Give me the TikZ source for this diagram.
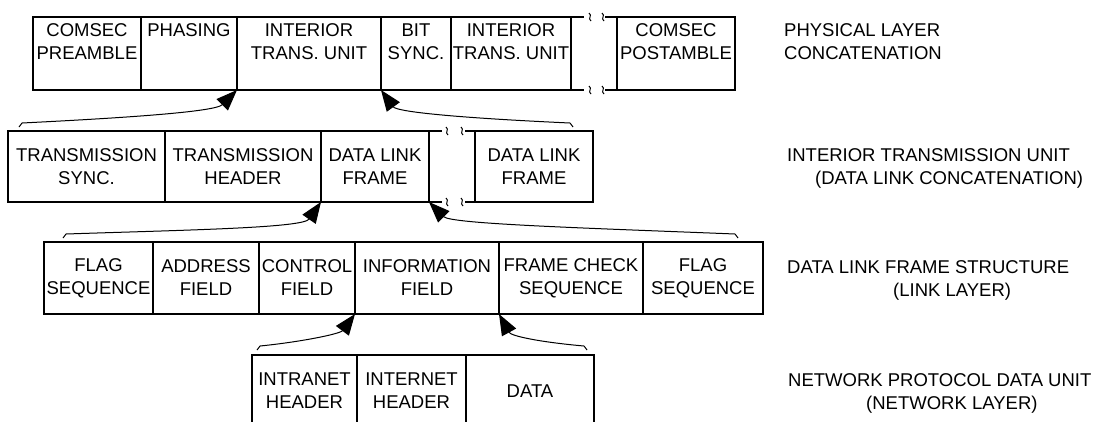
\documentclass[tikz,border=0pt]{standalone}
\usepackage{fontspec}
\setmainfont{Liberation Sans}
\usetikzlibrary{arrows.meta,calc}
\begin{document}
\begin{tikzpicture}[x=1pt,y=-1pt,
  cell/.style={draw,line width=1.3pt,inner sep=0pt,outer sep=0pt,anchor=north west,align=center,font=\fontsize{18.5}{23}\selectfont},
  txt/.style={inner sep=0pt,anchor=north,align=center,font=\fontsize{18.5}{23}\selectfont},
  lbl/.style={inner sep=0pt,anchor=base west,font=\fontsize{18.5}{23}\selectfont},
  frame/.style={line width=1.3pt},
  brk/.style={line width=1pt},
  conn/.style={line width=1pt,-{Triangle[length=21pt,width=16pt]}}]
\useasboundingbox (0,0) rectangle (1097,421);
\clip (0,0) rectangle (1097,421);
\newcommand{\brkmark}[1]{\draw[brk] ($#1+(-1,-4)$) .. controls ($#1+(2.8,-1.5)$) and ($#1+(-2.8,1.5)$) .. ($#1+(1,4)$);}
% ---------- row 1: physical layer ----------
\node[cell,minimum width=108,minimum height=73] (p1) at (33,17) {};
\node[cell,minimum width=96,minimum height=73] (p2) at (141,17) {};
\node[cell,minimum width=144,minimum height=73] (p3) at (237,17) {};
\node[cell,minimum width=70,minimum height=73] (p4) at (381,17) {};
\node[cell,minimum width=120,minimum height=73] (p5) at (451,17) {};
\node[cell,minimum width=118,minimum height=73] (p7) at (617,17) {};
\node[txt] (p1t) at ($(p1.north)+(0,6.4)$) {COMSEC\\PREAMBLE};
\node[txt] (p2t) at ($(p2.north)+(0,6.4)$) {PHASING};
\node[txt] (p3t) at ($(p3.north)+(0,6.4)$) {INTERIOR\\TRANS. UNIT};
\node[txt] (p4t) at ($(p4.north)+(0,6.4)$) {BIT\\SYNC.};
\node[txt] (p5t) at ($(p5.north)+(0,6.4)$) {INTERIOR\\TRANS. UNIT};
\node[txt] (p7t) at ($(p7.north)+(0,6.4)$) {COMSEC\\POSTAMBLE};
\draw[frame] (p5.north east) -- ++(13,0);
\draw[frame] (p5.south east) -- ++(13,0);
\draw[frame] (p7.north west) -- ++(-12,0);
\draw[frame] (p7.south west) -- ++(-12,0);
\brkmark{(p5.north east)+(19,0)}
\brkmark{(p5.north east)+(32,0)}
\brkmark{(p5.south east)+(19,0)}
\brkmark{(p5.south east)+(32,0)}
% ---------- row 2: interior transmission unit ----------
\node[cell,minimum width=157,minimum height=71] (d1) at (8,131) {TRANSMISSION\\SYNC.};
\node[cell,minimum width=156,minimum height=71] (d2) at (165,131) {TRANSMISSION\\HEADER};
\node[cell,minimum width=108,minimum height=71] (d3) at (321,131) {DATA LINK\\FRAME};
\node[cell,minimum width=118,minimum height=71] (d4) at (475,131) {DATA LINK\\FRAME};
\draw[frame] (d3.north east) -- ++(13,0);
\draw[frame] (d3.south east) -- ++(13,0);
\draw[frame] (d4.north west) -- ++(-10,0);
\draw[frame] (d4.south west) -- ++(-10,0);
\brkmark{(d3.north east)+(18,0)}
\brkmark{(d3.north east)+(33,0)}
\brkmark{(d3.south east)+(18,0)}
\brkmark{(d3.south east)+(33,0)}
% ---------- row 3: data link frame ----------
\node[cell,minimum width=109,minimum height=72] (f1) at (44,242) {FLAG\\SEQUENCE};
\node[cell,minimum width=106,minimum height=72] (f2) at (153,242) {ADDRESS\\FIELD};
\node[cell,minimum width=96,minimum height=72] (f3) at (259,242) {CONTROL\\FIELD};
\node[cell,minimum width=144,minimum height=72] (f4) at (355,242) {INFORMATION\\FIELD};
\node[cell,minimum width=144,minimum height=72] (f5) at (499,242) {FRAME CHECK\\SEQUENCE};
\node[cell,minimum width=120,minimum height=72] (f6) at (643,242) {FLAG\\SEQUENCE};
% ---------- row 4: network protocol data unit ----------
\node[cell,minimum width=105,minimum height=72] (n1) at (252,355) {INTRANET\\HEADER};
\node[cell,minimum width=109,minimum height=72] (n2) at (357,355) {INTERNET\\HEADER};
\node[cell,minimum width=128,minimum height=72] (n3) at (466,355) {DATA};
% ---------- right-hand labels ----------
\node[lbl] (l1a) at (784,36.6) {PHYSICAL LAYER};
\node[lbl] (l1b) at (784,59.6) {CONCATENATION};
\node[lbl] (l2a) at (787,161.6) {INTERIOR TRANSMISSION UNIT};
\node[lbl] (l2b) at (815,184.6) {(DATA LINK CONCATENATION)};
\node[lbl] (l3a) at (787,273.1) {DATA LINK FRAME STRUCTURE};
\node[lbl] (l3b) at (893,296.1) {(LINK LAYER)};
\node[lbl] (l4a) at (788,386.1) {NETWORK PROTOCOL DATA UNIT};
\node[lbl] (l4b) at (866,409.1) {(NETWORK LAYER)};
% ---------- connectors ----------
\coordinate (a1s) at (19,127);
\coordinate (a2s) at (573,127);
\coordinate (a3s) at (63,238);
\coordinate (a4s) at (738,238);
\coordinate (a5s) at (257,350);
\coordinate (a6s) at (587,350);
\draw[conn] (a1s) -- ++(3,-4) .. controls +(100,-5) and +(-22,22) .. (p3.south west);
\draw[conn] (a2s) -- ++(-3,-4) .. controls +(-110,-5) and +(16,22) .. (p3.south east);
\draw[conn] (a3s) -- ++(3,-4) .. controls +(120,-4) and +(-18,26) .. (d3.south west);
\draw[conn] (a4s) -- ++(-3,-4) .. controls +(-150,-6) and +(22,22) .. (d3.south east);
\draw[conn] (a5s) -- ++(3,-4) .. controls +(40,-4) and +(-15,20) .. (f4.south west);
\draw[conn] (a6s) -- ++(-3,-4) .. controls +(-45,-4) and +(12,22) .. (f4.south east);
\end{tikzpicture}
\end{document}
